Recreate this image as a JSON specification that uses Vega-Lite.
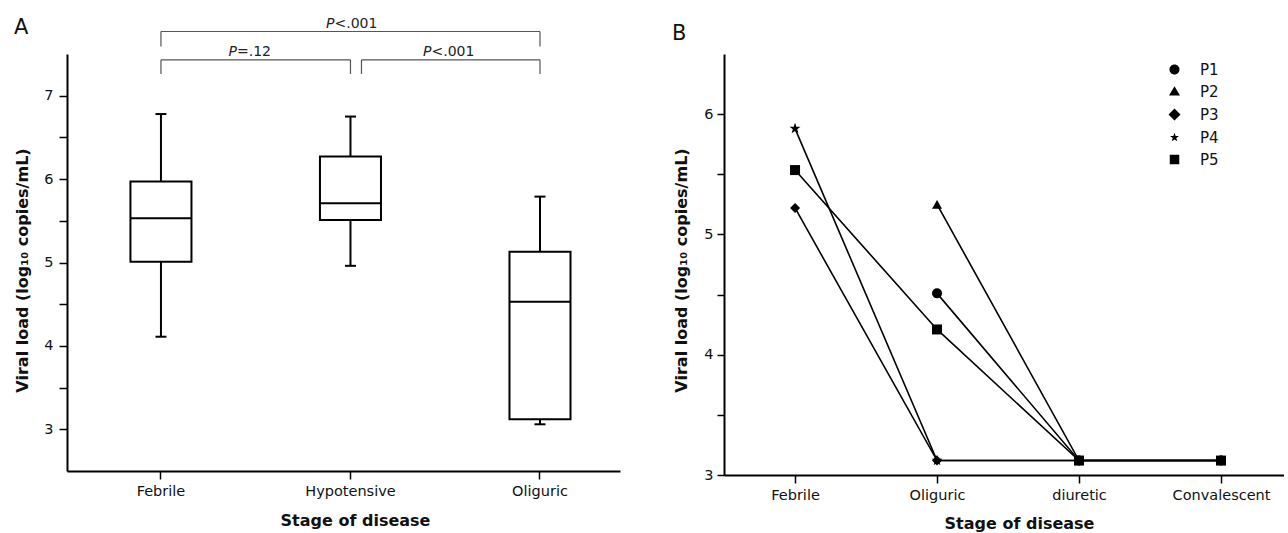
{
  "$schema": "https://vega.github.io/schema/vega-lite/v6.json",
  "background": "white",
  "padding": {"left": 13, "top": 16, "right": 0, "bottom": 0},
  "spacing": 52,
  "resolve": {"scale": {"shape": "independent"}, "legend": {"shape": "independent"}},
  "config": {
    "font": "DejaVu Sans",
    "view": {"stroke": null},
    "axis": {
      "grid": false,
      "domainColor": "black",
      "domainWidth": 2,
      "tickColor": "black",
      "tickWidth": 1.5,
      "labelColor": "#111",
      "labelFontSize": 14.5,
      "titleFontSize": 16,
      "titleFontWeight": "bold",
      "titleColor": "#111"
    }
  },
  "datasets": {
    "boxes": [
      {"stage": "Febrile", "lo": 4.11, "q1": 5.01, "med": 5.53, "q3": 5.97, "hi": 6.78},
      {"stage": "Hypotensive", "lo": 4.96, "q1": 5.51, "med": 5.71, "q3": 6.27, "hi": 6.75},
      {"stage": "Oliguric", "lo": 3.06, "q1": 3.12, "med": 4.53, "q3": 5.13, "hi": 5.79}
    ],
    "brackets": [
      {"from": "Febrile", "to": "Oliguric", "top": 7.77, "bot": 7.59},
      {"from": "Febrile", "to": "Hypotensive", "top": 7.43, "bot": 7.26}
    ],
    "bracketR": [
      {"from": "Hypotensive", "to": "Oliguric", "top": 7.43, "bot": 7.26}
    ],
    "pv": [
      {"id": "all", "anchor": "Hypotensive", "rest": "<.001", "ypos": 7.81},
      {"id": "fh", "anchor": "Febrile", "rest": "=.12", "ypos": 7.476},
      {"id": "ho", "anchor": "Hypotensive", "rest": "<.001", "ypos": 7.476}
    ],
    "panels": [
      {"panel": "A", "stage": "Febrile", "ypos": 7.74},
      {"panel": "B", "stage": "Febrile", "ypos": 6.616}
    ],
    "pts": [
      {"patient": "P1", "visit": 2, "stage": "Oliguric", "value": 4.51},
      {"patient": "P1", "visit": 3, "stage": "diuretic", "value": 3.12},
      {"patient": "P1", "visit": 4, "stage": "Convalescent", "value": 3.12},
      {"patient": "P2", "visit": 2, "stage": "Oliguric", "value": 5.25},
      {"patient": "P2", "visit": 3, "stage": "diuretic", "value": 3.12},
      {"patient": "P2", "visit": 4, "stage": "Convalescent", "value": 3.12},
      {"patient": "P3", "visit": 1, "stage": "Febrile", "value": 5.22},
      {"patient": "P3", "visit": 2, "stage": "Oliguric", "value": 3.12},
      {"patient": "P3", "visit": 3, "stage": "diuretic", "value": 3.12},
      {"patient": "P3", "visit": 4, "stage": "Convalescent", "value": 3.12},
      {"patient": "P4", "visit": 1, "stage": "Febrile", "value": 5.88},
      {"patient": "P4", "visit": 2, "stage": "Oliguric", "value": 3.12},
      {"patient": "P4", "visit": 3, "stage": "diuretic", "value": 3.12},
      {"patient": "P4", "visit": 4, "stage": "Convalescent", "value": 3.12},
      {"patient": "P5", "visit": 1, "stage": "Febrile", "value": 5.535},
      {"patient": "P5", "visit": 2, "stage": "Oliguric", "value": 4.21},
      {"patient": "P5", "visit": 3, "stage": "diuretic", "value": 3.12},
      {"patient": "P5", "visit": 4, "stage": "Convalescent", "value": 3.12}
    ]
  },
  "hconcat": [
    {
      "width": 553,
      "height": 417,
      "layer": [
        {
          "data": {"name": "boxes"},
          "mark": {"type": "rule", "color": "black", "strokeWidth": 2},
          "encoding": {
            "x": {
              "field": "stage", "type": "nominal", "title": "Stage of disease",
              "scale": {"type": "band", "domain": ["Febrile", "Hypotensive", "Oliguric"], "paddingInner": 0.5, "paddingOuter": 0.209, "align": 0.588},
              "axis": {"labelAngle": 0, "tickSize": 8, "labelPadding": 5, "titlePadding": 15, "titleX": 288}
            },
            "y": {
              "field": "lo", "type": "quantitative", "title": "Viral load (log₁₀ copies/mL)",
              "scale": {"domain": [2.5, 7.5], "nice": false, "zero": false},
              "axis": {"values": [3, 3.5, 4, 4.5, 5, 5.5, 6, 6.5, 7], "labelExpr": "datum.value % 1 === 0 ? datum.value : ''", "tickSize": 8, "labelPadding": 6, "titlePadding": 13, "titleY": 216}
            },
            "y2": {"field": "hi"}
          }
        },
        {
          "data": {"name": "boxes"},
          "mark": {"type": "tick", "color": "black", "opacity": 1, "thickness": 2, "size": 11},
          "encoding": {
            "x": {"field": "stage", "type": "nominal", "title": "Stage of disease"},
            "y": {"field": "lo", "type": "quantitative", "title": "Viral load (log₁₀ copies/mL)"}
          }
        },
        {
          "data": {"name": "boxes"},
          "mark": {"type": "tick", "color": "black", "opacity": 1, "thickness": 2, "size": 11},
          "encoding": {
            "x": {"field": "stage", "type": "nominal", "title": "Stage of disease"},
            "y": {"field": "hi", "type": "quantitative", "title": "Viral load (log₁₀ copies/mL)"}
          }
        },
        {
          "data": {"name": "boxes"},
          "mark": {"type": "bar", "fill": "white", "stroke": "black", "strokeWidth": 2, "width": {"band": 0.644}},
          "encoding": {
            "x": {"field": "stage", "type": "nominal", "title": "Stage of disease"},
            "y": {"field": "q1", "type": "quantitative", "title": "Viral load (log₁₀ copies/mL)"},
            "y2": {"field": "q3"}
          }
        },
        {
          "data": {"name": "boxes"},
          "mark": {"type": "tick", "color": "black", "opacity": 1, "thickness": 2, "size": 61},
          "encoding": {
            "x": {"field": "stage", "type": "nominal", "title": "Stage of disease"},
            "y": {"field": "med", "type": "quantitative", "title": "Viral load (log₁₀ copies/mL)"}
          }
        },
        {
          "data": {"name": "brackets"},
          "mark": {"type": "rule", "color": "#555", "strokeWidth": 1.2},
          "encoding": {
            "x": {"field": "from", "type": "nominal", "title": "Stage of disease"},
            "x2": {"field": "to"},
            "y": {"field": "top", "type": "quantitative", "title": "Viral load (log₁₀ copies/mL)"}
          }
        },
        {
          "data": {"name": "brackets"},
          "mark": {"type": "rule", "color": "#555", "strokeWidth": 1.2},
          "encoding": {
            "x": {"field": "from", "type": "nominal", "title": "Stage of disease"},
            "y": {"field": "top", "type": "quantitative", "title": "Viral load (log₁₀ copies/mL)"},
            "y2": {"field": "bot"}
          }
        },
        {
          "data": {"name": "brackets"},
          "mark": {"type": "rule", "color": "#555", "strokeWidth": 1.2},
          "encoding": {
            "x": {"field": "to", "type": "nominal", "title": "Stage of disease"},
            "y": {"field": "top", "type": "quantitative", "title": "Viral load (log₁₀ copies/mL)"},
            "y2": {"field": "bot"}
          }
        },
        {
          "data": {"name": "bracketR"},
          "mark": {"type": "rule", "color": "#555", "strokeWidth": 1.2, "xOffset": 11},
          "encoding": {
            "x": {"field": "from", "type": "nominal", "title": "Stage of disease"},
            "x2": {"field": "to"},
            "y": {"field": "top", "type": "quantitative", "title": "Viral load (log₁₀ copies/mL)"}
          }
        },
        {
          "data": {"name": "bracketR"},
          "mark": {"type": "rule", "color": "#555", "strokeWidth": 1.2, "xOffset": 11},
          "encoding": {
            "x": {"field": "from", "type": "nominal", "title": "Stage of disease"},
            "y": {"field": "top", "type": "quantitative", "title": "Viral load (log₁₀ copies/mL)"},
            "y2": {"field": "bot"}
          }
        },
        {
          "data": {"name": "bracketR"},
          "mark": {"type": "rule", "color": "#555", "strokeWidth": 1.2},
          "encoding": {
            "x": {"field": "to", "type": "nominal", "title": "Stage of disease"},
            "y": {"field": "top", "type": "quantitative", "title": "Viral load (log₁₀ copies/mL)"},
            "y2": {"field": "bot"}
          }
        },
        {
          "data": {"name": "pv"},
          "transform": [{"filter": "datum.id == 'all'"}],
          "mark": {"type": "text", "text": "P", "fontStyle": "italic", "align": "right", "baseline": "alphabetic", "dx": -16, "fontSize": 14, "color": "#222"},
          "encoding": {
            "x": {"field": "anchor", "type": "nominal", "title": "Stage of disease"},
            "y": {"field": "ypos", "type": "quantitative", "title": "Viral load (log₁₀ copies/mL)"}
          }
        },
        {
          "data": {"name": "pv"},
          "transform": [{"filter": "datum.id == 'all'"}],
          "mark": {"type": "text", "align": "left", "baseline": "alphabetic", "dx": -16, "fontSize": 14, "color": "#222"},
          "encoding": {
            "x": {"field": "anchor", "type": "nominal", "title": "Stage of disease"},
            "y": {"field": "ypos", "type": "quantitative", "title": "Viral load (log₁₀ copies/mL)"},
            "text": {"field": "rest"}
          }
        },
        {
          "data": {"name": "pv"},
          "transform": [{"filter": "datum.id == 'fh'"}],
          "mark": {"type": "text", "text": "P", "fontStyle": "italic", "align": "right", "baseline": "alphabetic", "dx": 76, "fontSize": 14, "color": "#222"},
          "encoding": {
            "x": {"field": "anchor", "type": "nominal", "title": "Stage of disease"},
            "y": {"field": "ypos", "type": "quantitative", "title": "Viral load (log₁₀ copies/mL)"}
          }
        },
        {
          "data": {"name": "pv"},
          "transform": [{"filter": "datum.id == 'fh'"}],
          "mark": {"type": "text", "align": "left", "baseline": "alphabetic", "dx": 76, "fontSize": 14, "color": "#222"},
          "encoding": {
            "x": {"field": "anchor", "type": "nominal", "title": "Stage of disease"},
            "y": {"field": "ypos", "type": "quantitative", "title": "Viral load (log₁₀ copies/mL)"},
            "text": {"field": "rest"}
          }
        },
        {
          "data": {"name": "pv"},
          "transform": [{"filter": "datum.id == 'ho'"}],
          "mark": {"type": "text", "text": "P", "fontStyle": "italic", "align": "right", "baseline": "alphabetic", "dx": 81, "fontSize": 14, "color": "#222"},
          "encoding": {
            "x": {"field": "anchor", "type": "nominal", "title": "Stage of disease"},
            "y": {"field": "ypos", "type": "quantitative", "title": "Viral load (log₁₀ copies/mL)"}
          }
        },
        {
          "data": {"name": "pv"},
          "transform": [{"filter": "datum.id == 'ho'"}],
          "mark": {"type": "text", "align": "left", "baseline": "alphabetic", "dx": 81, "fontSize": 14, "color": "#222"},
          "encoding": {
            "x": {"field": "anchor", "type": "nominal", "title": "Stage of disease"},
            "y": {"field": "ypos", "type": "quantitative", "title": "Viral load (log₁₀ copies/mL)"},
            "text": {"field": "rest"}
          }
        },
        {
          "data": {"name": "panels"},
          "transform": [{"filter": "datum.panel == 'A'"}],
          "mark": {"type": "text", "align": "left", "baseline": "alphabetic", "dx": -147, "fontSize": 21, "color": "#111"},
          "encoding": {
            "x": {"field": "stage", "type": "nominal", "title": "Stage of disease"},
            "y": {"field": "ypos", "type": "quantitative", "title": "Viral load (log₁₀ copies/mL)"},
            "text": {"field": "panel"}
          }
        }
      ]
    },
    {
      "width": 560,
      "height": 421,
      "layer": [
        {
          "data": {"name": "pts"},
          "mark": {"type": "line", "color": "black", "strokeWidth": 1.6},
          "encoding": {
            "x": {
              "field": "stage", "type": "nominal", "title": "Stage of disease",
              "scale": {"type": "point", "domain": ["Febrile", "Oliguric", "diuretic", "Convalescent"], "padding": 0.472, "align": 0.53},
              "axis": {"labelAngle": 0, "tickSize": 8, "labelPadding": 5, "titlePadding": 14, "titleX": 295}
            },
            "y": {
              "field": "value", "type": "quantitative", "title": "Viral load (log₁₀ copies/mL)",
              "scale": {"domain": [3, 6.5], "nice": false, "zero": false},
              "axis": {"values": [3, 3.5, 4, 4.5, 5, 5.5, 6], "labelExpr": "datum.value % 1 === 0 ? datum.value : ''", "tickSize": 7, "labelPadding": 4, "titlePadding": 14, "titleY": 216}
            },
            "detail": {"field": "patient"},
            "order": {"field": "visit"}
          }
        },
        {
          "data": {"name": "pts"},
          "mark": {"type": "point", "filled": true, "color": "black", "opacity": 1, "size": 100},
          "encoding": {
            "x": {"field": "stage", "type": "nominal", "title": "Stage of disease"},
            "y": {"field": "value", "type": "quantitative", "title": "Viral load (log₁₀ copies/mL)"},
            "shape": {
              "field": "patient", "type": "nominal",
              "scale": {
                "domain": ["P1", "P2", "P3", "P4", "P5"],
                "range": [
                  "circle",
                  "triangle-up",
                  "diamond",
                  "M0,-1.15L0.27,-0.37L1.09,-0.36L0.44,0.14L0.68,0.93L0,0.46L-0.68,0.93L-0.44,0.14L-1.09,-0.36L-0.27,-0.37Z",
                  "square"
                ]
              },
              "legend": null
            }
          }
        },
        {
          "data": {"name": "pts"},
          "transform": [{"filter": "false"}],
          "mark": {"type": "point", "filled": true, "color": "black", "stroke": "black", "strokeWidth": 1.5, "opacity": 1},
          "encoding": {
            "shape": {
              "field": "patient", "type": "nominal",
              "scale": {
                "domain": ["P1", "P2", "P3", "P4", "P5"],
                "range": [
                  "M-3.9,0H3.9M1,0C1,0.552,0.552,1,0,1C-0.552,1,-1,0.552,-1,0C-1,-0.552,-0.552,-1,0,-1C0.552,-1,1,-0.552,1,0Z",
                  "M-3.9,0H3.9M0,-1.05L1.1,0.8L-1.1,0.8Z",
                  "M-3.9,0H3.9M0,-1.2L1.2,0L0,1.2L-1.2,0Z",
                  "M-3.9,0H3.9M0,-0.95L0.22,-0.31L0.9,-0.29L0.36,0.12L0.56,0.77L0,0.38L-0.56,0.77L-0.36,0.12L-0.9,-0.29L-0.22,-0.31Z",
                  "M-3.9,0H3.9M-0.95,-0.95H0.95V0.95H-0.95Z"
                ]
              },
              "legend": {
                "orient": "none", "legendX": 443, "legendY": 8, "title": null,
                "symbolSize": 100, "symbolStrokeWidth": 1.5, "symbolStrokeColor": "black", "symbolFillColor": "black",
                "labelFontSize": 15, "labelColor": "#111", "labelOffset": 18, "rowPadding": 5, "padding": 0
              }
            }
          }
        },
        {
          "data": {"name": "panels"},
          "transform": [{"filter": "datum.panel == 'B'"}],
          "mark": {"type": "text", "align": "left", "baseline": "alphabetic", "dx": -123, "fontSize": 21, "color": "#111"},
          "encoding": {
            "x": {"field": "stage", "type": "nominal", "title": "Stage of disease"},
            "y": {"field": "ypos", "type": "quantitative", "title": "Viral load (log₁₀ copies/mL)"},
            "text": {"field": "panel"}
          }
        }
      ],
      "resolve": {"scale": {"shape": "independent"}}
    }
  ]
}
